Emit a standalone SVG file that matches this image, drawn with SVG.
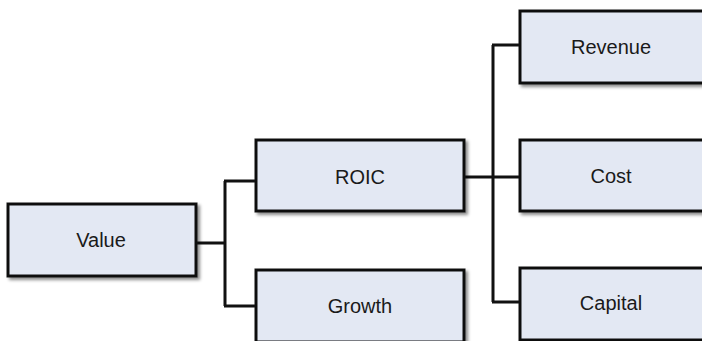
<svg xmlns="http://www.w3.org/2000/svg" width="702" height="341" viewBox="0 0 702 341">
  <defs>
    <filter id="shadow" x="-10%" y="-10%" width="130%" height="140%">
      <feDropShadow dx="2.5" dy="2.5" stdDeviation="1.6" flood-color="#000" flood-opacity="0.45"/>
    </filter>
    <style>
      .box { fill: #e3e8f3; stroke: #111; stroke-width: 3; filter: url(#shadow); }
      .label { font-family: "Liberation Sans", Arial, Helvetica, sans-serif; font-size: 20px; fill: #1a1a1a; text-anchor: middle; }
      .wire { fill: none; stroke: #111; stroke-width: 3; }
    </style>
  </defs>
  <rect width="702" height="341" fill="#ffffff"/>

  <!-- connectors -->
  <g id="connectors">
    <path class="wire" d="M196 243 H225 M225 181 V306 M224 181 H256 M224 306 H256"/>
    <path class="wire" d="M464 177 H520 M493 45 V302 M492 45 H520 M492 302 H520"/>
  </g>

  <!-- nodes -->
  <g id="value">
    <rect class="box" x="8" y="204" width="188" height="72"/>
    <text class="label" x="101" y="247">Value</text>
  </g>
  <g id="roic">
    <rect class="box" x="256" y="140" width="208" height="71"/>
    <text class="label" x="360" y="184">ROIC</text>
  </g>
  <g id="growth">
    <rect class="box" x="256" y="270" width="208" height="72"/>
    <text class="label" x="360" y="313">Growth</text>
  </g>
  <g id="revenue">
    <rect class="box" x="520" y="11" width="210" height="72"/>
    <text class="label" x="611" y="54">Revenue</text>
  </g>
  <g id="cost">
    <rect class="box" x="520" y="140" width="210" height="71"/>
    <text class="label" x="611" y="183">Cost</text>
  </g>
  <g id="capital">
    <rect class="box" x="520" y="268" width="210" height="72"/>
    <text class="label" x="611" y="310">Capital</text>
  </g>
</svg>
